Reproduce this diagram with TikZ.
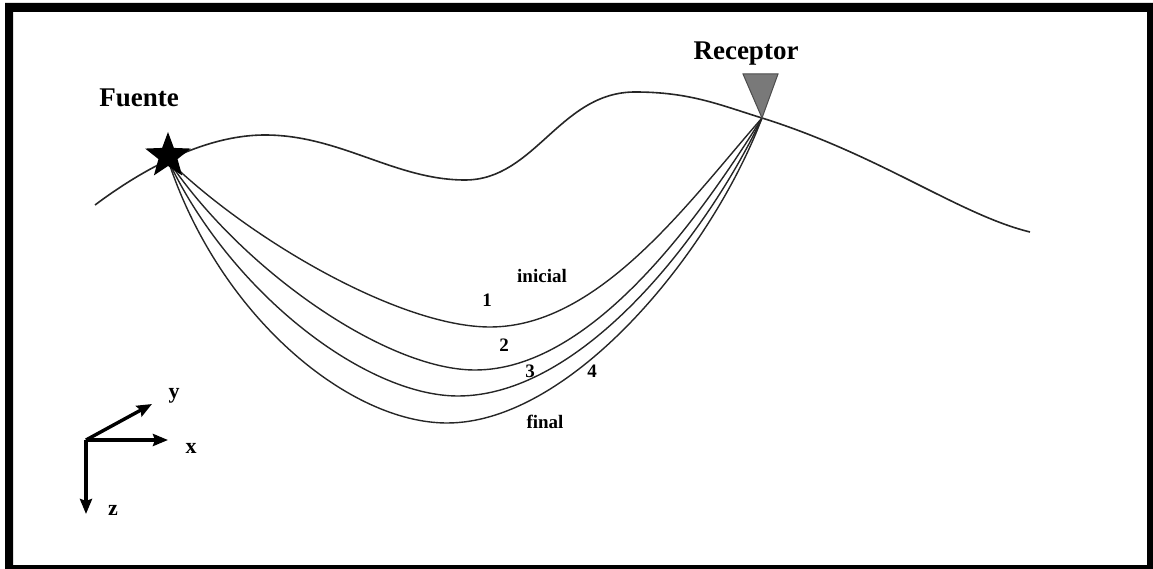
\documentclass[tikz,border=0pt]{standalone}
\usepackage{fontspec}
\setmainfont{Liberation Serif}
\usetikzlibrary{shapes.geometric,arrows.meta}
\begin{document}
\begin{tikzpicture}[x=1pt,y=-1pt,
  ray/.style={line width=1.4pt, black!85},
  surf/.style={line width=1.6pt, black!85},
  axis/.style={line width=3.4pt, -{Stealth[length=15pt,width=12pt,inset=2pt]}},
  lbl/.style={font=\fontsize{27}{30}\selectfont\bfseries, inner sep=0pt},
  tag/.style={font=\fontsize{19}{22}\selectfont\bfseries, inner sep=0pt},
  axl/.style={font=\fontsize{22}{24}\selectfont\bfseries, inner sep=0pt}]
\useasboundingbox (0,0) rectangle (1153,569);
% frame
\fill[black, even odd rule] (5,3) rectangle (1153,569) (13,12) rectangle (1147,565);
% source and receiver positions
\coordinate (S) at (168,160);
\coordinate (R) at (762,118);
% surface
\draw[surf] (95,205) .. controls (135,175) and (200,135) .. (265,135)
  .. controls (340,135) and (395,180) .. (465,180)
  .. controls (535,180) and (560,92) .. (635,92)
  .. controls (690,92) and (720,105) .. (R)
  .. controls (880,155) and (960,215) .. (1030,232);
% rays, from the initial one to the final one
\draw[ray] (S) .. controls (250,240) and (400,327) .. (490,327)
  .. controls (600,327) and (690,200) .. (R);
\draw[ray] (S) .. controls (240,268) and (385,370) .. (475,370)
  .. controls (590,370) and (697,222) .. (R);
\draw[ray] (S) .. controls (230,292) and (365,396) .. (458,396)
  .. controls (580,396) and (704,240) .. (R);
\draw[ray] (S) .. controls (220,318) and (350,423) .. (447,423)
  .. controls (570,423) and (710,255) .. (R);
% source star and receiver triangle
\node[star, star points=5, star point ratio=2.4, fill=black, minimum size=48pt, inner sep=0pt] (fuente) at (168,156) {};
\fill[gray!95!black, draw=black!70, line width=1pt] (743,74) -- (778,74) -- (R) -- cycle;
% labels
\node[lbl] (tF) at (139,98) {Fuente};
\node[lbl] (tR) at (746,54) {Receptor};
\node[tag] (t0) at (542,276) {inicial};
\node[tag] (t1) at (487,300) {1};
\node[tag] (t2) at (504,345) {2};
\node[tag] (t3) at (530,371) {3};
\node[tag] (t4) at (592,371) {4};
\node[tag] (tf) at (545,422) {final};
% axes
\coordinate (O) at (86,440);
\coordinate (Ex) at (168,440);
\coordinate (Ey) at (152,404);
\coordinate (Ez) at (86,514);
\draw[axis] (O) -- (Ex);
\draw[axis] (O) -- (Ey);
\draw[axis] (O) -- (Ez);
\node[axl] (lx) at (191,448) {x};
\node[axl] (ly) at (174,396) {y};
\node[axl] (lz) at (113,510) {z};
\end{tikzpicture}
\end{document}
